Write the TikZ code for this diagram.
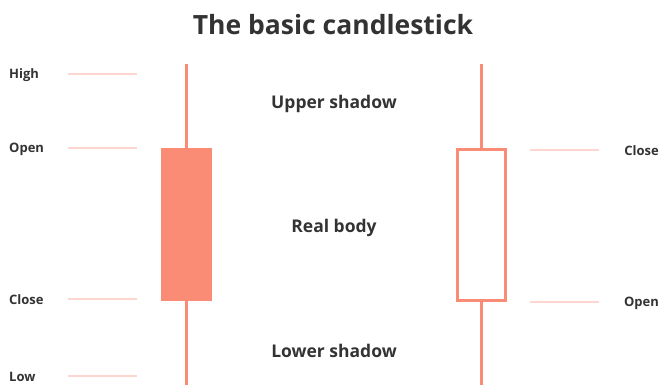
\documentclass[tikz,border=0pt]{standalone}
\usepackage{fontspec}
\setmainfont{Open Sans}
\definecolor{candle}{RGB}{250,140,118}
\definecolor{level}{RGB}{253,214,208}
\definecolor{ink}{RGB}{51,51,51}
\begin{document}
\begin{tikzpicture}[x=1pt,y=-1pt,
  lbl/.style={font=\fontsize{13}{15}\selectfont\bfseries,text=ink,inner sep=0pt},
  part/.style={font=\fontsize{17.5}{21}\selectfont\bfseries,text=ink,inner sep=0pt},
  levelline/.style={level,line width=2pt},
  wick/.style={candle,line width=3pt}]
\useasboundingbox[fill=white] (0,0) rectangle (660,384);

\node[font=\fontsize{26.5}{30}\selectfont\bfseries,text=ink,inner sep=0pt] (title) at (333,25) {The basic candlestick};

% Filled candle (left)
\node[fill=candle,minimum width=51pt,minimum height=153pt,inner sep=0pt] (bear) at (186.5,224.5) {};
\draw[wick] (186.5,64) -- (bear.north);
\draw[wick] (bear.south) -- (186.5,386);

\foreach \name/\y in {High/74, Open/148, Close/299, Low/376} {
  \node[lbl,anchor=west] (lbl\name) at (9,\y+1) {\name};
  \draw[levelline] (68,\y) -- (137,\y);
}

% Hollow candle (right)
\node[draw=candle,line width=3pt,minimum width=48pt,minimum height=151pt,inner sep=0pt] (bull) at (481,224.5) {};
\draw[wick] (481,64) -- (bull.north);
\draw[wick] (bull.south) -- (481,386);

\foreach \name/\y in {Close/150, Open/302} {
  \node[lbl,anchor=east] (rlbl\name) at (659,\y+1) {\name};
  \draw[levelline] (530,\y) -- (599,\y);
}

% Parts
\node[part] (upper) at (334,104) {Upper shadow};
\node[part] (real) at (334,228) {Real body};
\node[part] (lower) at (334,351) {Lower shadow};
\end{tikzpicture}
\end{document}
